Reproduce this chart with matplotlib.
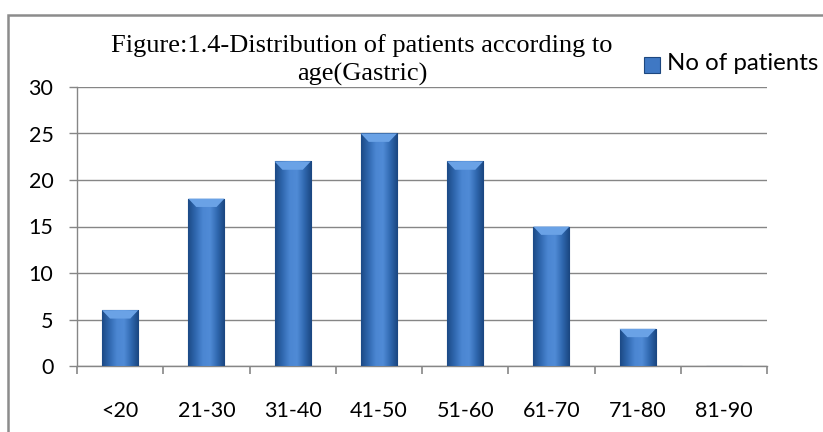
import numpy as np
import matplotlib
matplotlib.use('Agg')
import matplotlib.pyplot as plt
from matplotlib.patches import Rectangle
from matplotlib.colors import LinearSegmentedColormap

# data
age_groups = ['<20', '21-30', '31-40', '41-50', '51-60', '61-70', '71-80', '81-90']
patients = [6, 18, 22, 25, 22, 15, 4, 0]
y_ticks = [0, 5, 10, 15, 20, 25, 30]

title = 'Figure:1.4-Distribution of patients according to\nage(Gastric)'
series_name = 'No of patients'

W, H = 823, 432
fig = plt.figure(figsize=(W/100, H/100), dpi=100)
fig.patch.set_facecolor('white')

# outer chart border (right and bottom run off the picture)
fig.add_artist(Rectangle((8/W, -0.05), 1.2, 1.05 - 15/H,
                         transform=fig.transFigure, fill=False,
                         edgecolor='#8c8c8c', linewidth=1.8))

ax = fig.add_axes([77/W, 1 - 366/H, (767 - 77)/W, (366 - 87)/H])

grid_col = '#868686'
ax.set_xlim(0, len(age_groups))
ax.set_ylim(0, 30)
ax.set_yticks(y_ticks)
ax.yaxis.grid(True, color=grid_col, linewidth=1.0)
ax.set_axisbelow(True)
for s in ['top', 'right']:
    ax.spines[s].set_visible(False)
for s in ['left', 'bottom']:
    ax.spines[s].set_color(grid_col)
    ax.spines[s].set_linewidth(1.0)

# x ticks on category boundaries, labels centred
ax.set_xticks(np.arange(len(age_groups) + 1))
ax.set_xticklabels([])
ax.set_xticks(np.arange(len(age_groups)) + 0.5, minor=True)
ax.set_xticklabels(age_groups, minor=True)
ax.tick_params(axis='x', which='major', length=6, color=grid_col, width=1.2)
ax.tick_params(axis='x', which='minor', length=0, pad=25.5)
ax.tick_params(axis='y', length=6, color=grid_col, width=1.0, pad=11)
for lab in ax.get_xticklabels(minor=True) + ax.get_yticklabels():
    lab.set_fontfamily('Lato')
    lab.set_fontsize(15.5)
    lab.set_color('black')

# bars with a horizontal shading like the bevelled office bars
bar_w = 0.42
cmap = LinearSegmentedColormap.from_list(
    'bev', ['#1c4a86', '#3068b0', '#4b86d2', '#508bd6', '#3068b0', '#1a4680'])
grad = np.linspace(0, 1, 64).reshape(1, -1)
bars = ax.bar(np.arange(len(age_groups)) + 0.5, patients, width=bar_w,
              color='#3a70b8', edgecolor='#1d477f', linewidth=0.8, zorder=2)
for b in bars:
    h = b.get_height()
    if h <= 0:
        continue
    x0 = b.get_x()
    im = ax.imshow(grad, cmap=cmap, aspect='auto', zorder=3,
                   extent=[x0, x0 + bar_w, 0, h], interpolation='bicubic')
    im.set_clip_path(b)
    # lighter bevel on top
    top = plt.Polygon([[x0, h], [x0 + bar_w, h],
                       [x0 + bar_w * 0.78, h - 0.9], [x0 + bar_w * 0.22, h - 0.9]],
                      closed=True, facecolor='#6aa2e6', edgecolor='none', zorder=4)
    ax.add_patch(top)
ax.set_xlim(0, len(age_groups))
ax.set_ylim(0, 30)

fig.text(362/W, 1 - 60/H, title, ha='center', va='center',
         fontfamily='Liberation Serif', fontsize=19, linespacing=1.3)

# legend
fig.add_artist(Rectangle((644/W, 1 - 73/H), 16/W, 16/H,
                         transform=fig.transFigure, facecolor='#3f78c4',
                         edgecolor='#1d477f', linewidth=0.8))
fig.text(667/W, 1 - 64/H, series_name, ha='left', va='center',
         fontfamily='Lato', fontsize=17.3)

fig.savefig('out.png', dpi=100)
